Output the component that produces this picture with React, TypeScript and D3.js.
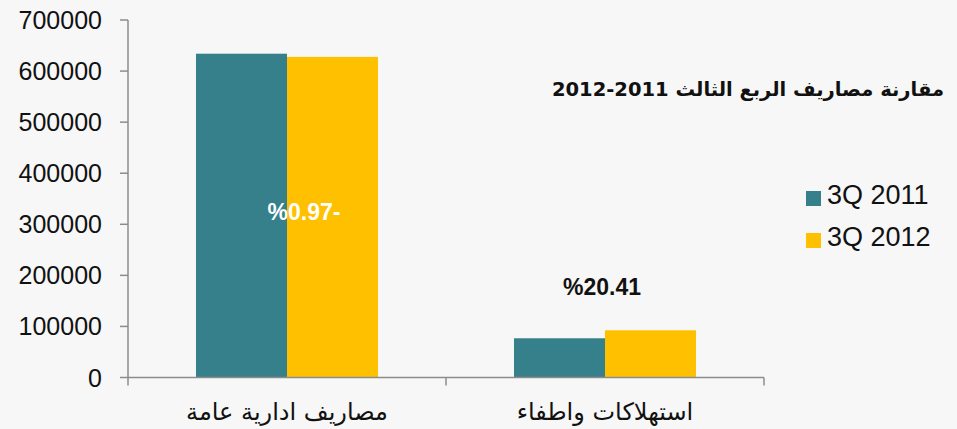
import React from "react";
import * as d3 from "d3";

const categories = ["مصاريف ادارية عامة", "استهلاكات واطفاء"];
const series = ["3Q 2011", "3Q 2012"];
const values2011 = [634000, 76800];
const values2012 = [627800, 92500];
const changeLabels = ["%0.97-", "%20.41"];
const yTicks = [0, 100000, 200000, 300000, 400000, 500000, 600000, 700000];
const title = "مقارنة مصاريف الربع الثالث 2011-2012";

const colors = ["#35808a", "#ffc000"];
const W = 957, H = 429;
const left = 128, right = 764, top = 20, bottom = 377.5;

export default function App() {
  const x = d3.scaleBand<string>().domain(categories).range([left, right]).paddingInner(0).paddingOuter(0);
  const xs = d3.scaleBand<string>().domain(series).range([0, x.bandwidth()]).paddingInner(0).paddingOuter(0.747);
  const y = d3.scaleLinear().domain([0, 700000]).range([bottom, top]);
  const vals = [values2011, values2012];
  const axisColor = "#8c8c8c";
  const labelFont = "'Liberation Sans', Arial, sans-serif";
  return (
    <svg width={W} height={H} style={{ position: "absolute", left: 0, top: 0 }}>
      <rect x={0} y={0} width={W} height={H} fill="#f7f7f7" />
      {categories.map((c, ci) =>
        series.map((s, si) => (
          <rect key={c + s} x={(x(c) ?? 0) + (xs(s) ?? 0)} y={y(vals[si][ci])}
            width={xs.bandwidth()} height={y(0) - y(vals[si][ci])} fill={colors[si]} />
        ))
      )}
      {/* y axis */}
      <line x1={left} x2={left} y1={y(700000)} y2={y(0)} stroke={axisColor} strokeWidth={1.5} />
      {yTicks.map((t) => (
        <g key={t}>
          <line x1={left - 8} x2={left} y1={y(t)} y2={y(t)} stroke={axisColor} strokeWidth={1.5} />
          <text x={left - 26} y={y(t)} dy="0.36em" textAnchor="end" fontFamily={labelFont} fontSize={25} fill="#111">{t}</text>
        </g>
      ))}
      {/* x axis */}
      <line x1={left} x2={right} y1={y(0)} y2={y(0)} stroke={axisColor} strokeWidth={1.5} />
      {[...categories.map((c) => x(c) ?? 0), right].map((px, i) => (
        <line key={i} x1={px} x2={px} y1={y(0)} y2={y(0) + 8} stroke={axisColor} strokeWidth={1.5} />
      ))}
      {categories.map((c) => (
        <text key={c} x={(x(c) ?? 0) + x.bandwidth() / 2} y={420} textAnchor="middle" direction="rtl"
          fontFamily="'DejaVu Sans', sans-serif" fontSize={24} fill="#111">{c}</text>
      ))}
      {/* change labels */}
      <text x={(x(categories[0]) ?? 0) + x.bandwidth() / 2 + 17} y={220} textAnchor="middle"
        fontFamily={labelFont} fontWeight="bold" fontSize={23} fill="#ffffff" style={{ direction: "ltr", unicodeBidi: "bidi-override" }}>{changeLabels[0]}</text>
      <text x={(x(categories[1]) ?? 0) + x.bandwidth() / 2 - 3} y={295} textAnchor="middle"
        fontFamily={labelFont} fontWeight="bold" fontSize={23} fill="#111" style={{ direction: "ltr", unicodeBidi: "bidi-override" }}>{changeLabels[1]}</text>
      {/* title */}
      <text x={944} y={96} textAnchor="start" direction="rtl" fontFamily="'DejaVu Sans', sans-serif" fontWeight="bold" fontSize={19.5} fill="#111">{title}</text>
      {/* legend */}
      {series.map((s, i) => (
        <g key={s} transform={`translate(806, ${191 + i * 42})`}>
          <rect x={0} y={0} width={15} height={15} fill={colors[i]} />
          <text x={21} y={13} fontFamily={labelFont} fontSize={27} fill="#111">{s}</text>
        </g>
      ))}
    </svg>
  );
}
